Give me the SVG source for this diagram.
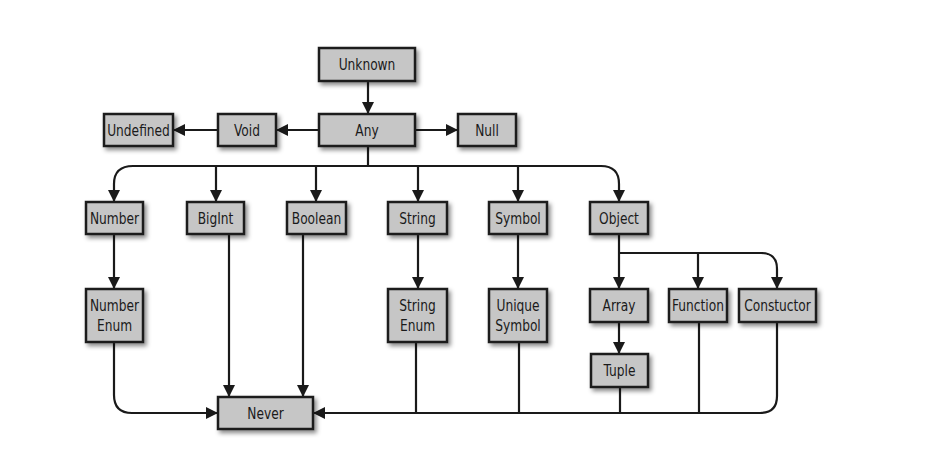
<svg xmlns="http://www.w3.org/2000/svg" width="930" height="453" viewBox="0 0 930 453">
<style>
.box{fill:#c6c6c6;stroke:#1a1a1a;stroke-width:2.5;filter:url(#sh)}
.t{font-family:"DejaVu Sans Condensed","Liberation Sans Narrow","Liberation Sans",sans-serif;font-size:16px;fill:#1a1a1a;text-anchor:middle;dominant-baseline:central}
.c{fill:none;stroke:#1a1a1a;stroke-width:2.2}
.a{marker-end:url(#ah)}
</style>
<defs>
<filter id="sh" x="-20%" y="-20%" width="150%" height="160%">
<feDropShadow dx="2.5" dy="3" stdDeviation="2.2" flood-color="#000" flood-opacity="0.45"/>
</filter>
<marker id="ah" markerUnits="userSpaceOnUse" markerWidth="12" markerHeight="12" refX="12" refY="6" orient="auto">
<path d="M0,0 L12,6 L0,12 z" fill="#1a1a1a"/>
</marker>
</defs>
<rect width="930" height="453" fill="#fff"/>
<g id="connectors">
<path class="c a" d="M368,82 V114"/>
<path class="c a" d="M318,130 H276"/>
<path class="c a" d="M218,130 H173"/>
<path class="c a" d="M415,130 H458"/>
<path class="c" d="M368,146 V166"/>
<path class="c a" d="M133,166 H601 Q619,166 619,184 V202"/>
<path class="c a" d="M368,166 H133 Q114,166 114,184 V202"/>
<path class="c a" d="M216,166 V202"/>
<path class="c a" d="M316,166 V202"/>
<path class="c a" d="M418,166 V202"/>
<path class="c a" d="M518,166 V202"/>
<path class="c a" d="M114,234 V289"/>
<path class="c a" d="M418,234 V289"/>
<path class="c a" d="M518,234 V289"/>
<path class="c a" d="M619,234 V289"/>
<path class="c a" d="M619,253 H761 Q777,253 777,269 V289"/>
<path class="c a" d="M698,253 V289"/>
<path class="c a" d="M619,322 V354"/>
<path class="c a" d="M114,342 V395 Q114,413 132,413 H218"/>
<path class="c a" d="M229,234 V397"/>
<path class="c a" d="M303,234 V397"/>
<path class="c a" d="M777,322 V396 Q777,413 760,413 H313"/>
<path class="c" d="M416,342 V413"/>
<path class="c" d="M519,342 V413"/>
<path class="c" d="M620,387 V413"/>
<path class="c" d="M699,322 V413"/>
</g>
<g id="unknown"><rect class="box" x="319" y="48" width="96" height="33"/><text class="t" transform="translate(367 64.5) scale(0.85 1)">Unknown</text></g>
<g id="any"><rect class="box" x="319" y="114" width="96" height="32"/><text class="t" transform="translate(367 130) scale(0.85 1)">Any</text></g>
<g id="void"><rect class="box" x="218" y="114" width="58" height="32"/><text class="t" transform="translate(247 130) scale(0.85 1)">Void</text></g>
<g id="undefined"><rect class="box" x="104" y="114" width="69" height="32"/><text class="t" transform="translate(138.5 130) scale(0.85 1)">Undefined</text></g>
<g id="null"><rect class="box" x="458" y="114" width="58" height="32"/><text class="t" transform="translate(487 130) scale(0.85 1)">Null</text></g>
<g id="number"><rect class="box" x="86" y="202" width="57" height="32"/><text class="t" transform="translate(114.5 218) scale(0.85 1)">Number</text></g>
<g id="bigint"><rect class="box" x="187" y="202" width="57" height="32"/><text class="t" transform="translate(215.5 218) scale(0.85 1)">BigInt</text></g>
<g id="boolean"><rect class="box" x="287" y="202" width="59" height="32"/><text class="t" transform="translate(316.5 218) scale(0.85 1)">Boolean</text></g>
<g id="string"><rect class="box" x="388" y="202" width="59" height="32"/><text class="t" transform="translate(417.5 218) scale(0.85 1)">String</text></g>
<g id="symbol"><rect class="box" x="489" y="202" width="58" height="32"/><text class="t" transform="translate(518 218) scale(0.85 1)">Symbol</text></g>
<g id="object"><rect class="box" x="590" y="202" width="58" height="32"/><text class="t" transform="translate(619 218) scale(0.85 1)">Object</text></g>
<g id="number-enum"><rect class="box" x="86" y="289" width="57" height="53"/><text class="t" transform="translate(114.5 305) scale(0.85 1)">Number</text><text class="t" transform="translate(114.5 325) scale(0.85 1)">Enum</text></g>
<g id="string-enum"><rect class="box" x="388" y="289" width="59" height="53"/><text class="t" transform="translate(417.5 305) scale(0.85 1)">String</text><text class="t" transform="translate(417.5 325) scale(0.85 1)">Enum</text></g>
<g id="unique-symbol"><rect class="box" x="489" y="289" width="58" height="53"/><text class="t" transform="translate(518 305) scale(0.85 1)">Unique</text><text class="t" transform="translate(518 325) scale(0.85 1)">Symbol</text></g>
<g id="array"><rect class="box" x="590" y="289" width="58" height="33"/><text class="t" transform="translate(619 305.5) scale(0.85 1)">Array</text></g>
<g id="function"><rect class="box" x="669" y="289" width="58" height="33"/><text class="t" transform="translate(698 305.5) scale(0.85 1)">Function</text></g>
<g id="constructor"><rect class="box" x="739" y="289" width="77" height="33"/><text class="t" transform="translate(777.5 305.5) scale(0.85 1)">Constuctor</text></g>
<g id="tuple"><rect class="box" x="591" y="354" width="57" height="33"/><text class="t" transform="translate(619.5 370.5) scale(0.85 1)">Tuple</text></g>
<g id="never"><rect class="box" x="218" y="397" width="95" height="32"/><text class="t" transform="translate(265.5 413) scale(0.85 1)">Never</text></g>
</svg>
